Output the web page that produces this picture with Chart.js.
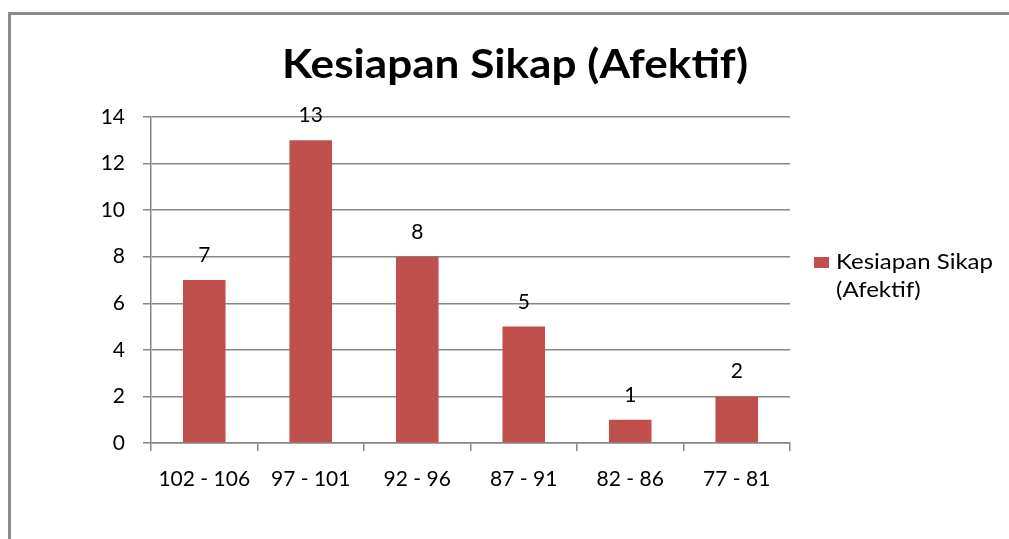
<!DOCTYPE html>
<html>
<head>
<meta charset="utf-8">
<script src="https://cdn.jsdelivr.net/npm/chart.js@4.4.1/dist/chart.umd.min.js"></script>
<style>
  html, body { margin: 0; padding: 0; background: #ffffff; }
  #wrap { position: relative; width: 1009px; height: 539px; }
  canvas { display: block; }
</style>
</head>
<body>
<div id="wrap"><canvas id="c" width="1009" height="539"></canvas></div>
<script>
const chartTitle = 'Kesiapan Sikap (Afektif)';
const seriesName = 'Kesiapan Sikap (Afektif)';
const legendLines = ['Kesiapan Sikap', '(Afektif)'];
const categories = ['102 - 106', '97 - 101', '92 - 96', '87 - 91', '82 - 86', '77 - 81'];
const values = [7, 13, 8, 5, 1, 2];
const yTicks = [0, 2, 4, 6, 8, 10, 12, 14];

const FONT = 'Lato, "Open Sans", sans-serif';
const BAR = '#C0504D';
const GRID = '#868686';

function wideText(ctx, text, x, y, sx) {
  ctx.save();
  ctx.translate(x, y);
  ctx.scale(sx, 1);
  ctx.fillText(text, 0, 0);
  ctx.restore();
}

const decorPlugin = {
  id: 'decor',
  beforeDraw(chart) {
    const ctx = chart.ctx;
    ctx.save();
    ctx.fillStyle = '#ffffff';
    ctx.fillRect(0, 0, chart.width, chart.height);
    ctx.strokeStyle = '#8c8c8c';
    ctx.lineWidth = 3;
    ctx.beginPath();
    ctx.moveTo(9.5, chart.height);
    ctx.lineTo(9.5, 13.5);
    ctx.lineTo(chart.width, 13.5);
    ctx.stroke();
    // title
    ctx.fillStyle = '#000000';
    ctx.font = 'bold 40px ' + FONT;
    ctx.textAlign = 'center';
    ctx.textBaseline = 'alphabetic';
    const w = ctx.measureText(chartTitle).width;
    wideText(ctx, chartTitle, 515, 78, 466 / w);
    ctx.restore();
  },
  afterDatasetsDraw(chart) {
    const ctx = chart.ctx;
    const meta = chart.getDatasetMeta(0);
    ctx.save();
    ctx.fillStyle = '#000000';
    ctx.font = '21px ' + FONT;
    ctx.textAlign = 'center';
    ctx.textBaseline = 'alphabetic';
    meta.data.forEach((bar, i) => {
      ctx.fillText(String(chart.data.datasets[0].data[i]), bar.x, bar.y - 18);
    });
    // legend
    const ds = chart.data.datasets[0];
    ctx.fillStyle = ds.backgroundColor;
    ctx.fillRect(814, 257, 15, 11);
    ctx.fillStyle = '#000000';
    ctx.textAlign = 'left';
    ctx.font = '22px ' + FONT;
    const lw = ctx.measureText(legendLines[0]).width;
    const sx = 157 / lw;
    legendLines.forEach((t, i) => wideText(ctx, t, 836, 269 + i * 28, sx));
    ctx.restore();
  }
};

new Chart(document.getElementById('c'), {
  type: 'bar',
  data: {
    labels: categories,
    datasets: [{
      label: seriesName,
      data: values,
      backgroundColor: BAR,
      borderWidth: 0,
      categoryPercentage: 1.0,
      barPercentage: 0.4
    }]
  },
  options: {
    responsive: false,
    animation: false,
    layout: { padding: { left: 0, top: 117, right: 219, bottom: 0 } },
    plugins: {
      legend: { display: false },
      title: { display: false },
      tooltip: { enabled: false }
    },
    scales: {
      x: {
        afterFit(scale) { scale.height = 96; },
        grid: { display: true, drawOnChartArea: false, drawTicks: true, tickLength: 8, color: GRID, lineWidth: 1.5, offset: true },
        border: { display: true, color: GRID, width: 1.5 },
        ticks: { color: '#000000', font: { family: FONT, size: 21 }, padding: 16, maxRotation: 0, autoSkip: false }
      },
      y: {
        min: 0,
        max: 14,
        afterFit(scale) { scale.width = 151; },
        afterBuildTicks(scale) { scale.ticks = yTicks.map(v => ({ value: v })); },
        grid: { display: true, drawTicks: true, tickLength: 8, color: GRID, lineWidth: 1.5 },
        border: { display: true, color: GRID, width: 1.5 },
        ticks: { color: '#000000', font: { family: FONT, size: 21 }, padding: 18 }
      }
    }
  },
  plugins: [decorPlugin]
});
</script>
</body>
</html>
